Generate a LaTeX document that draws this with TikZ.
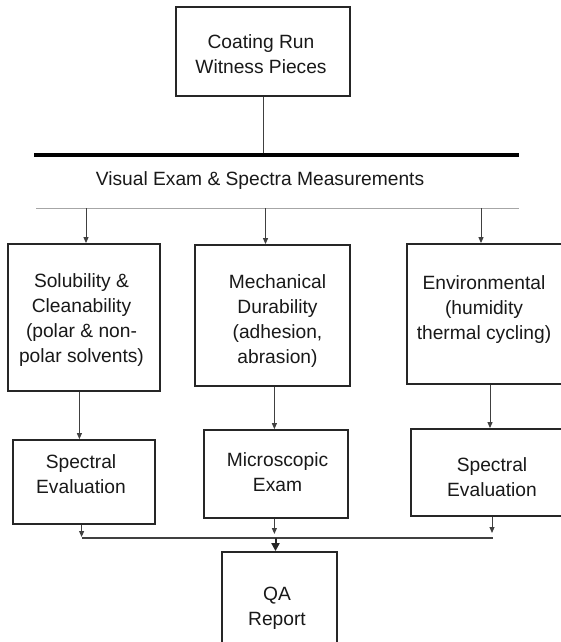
\documentclass[tikz,border=0pt]{standalone}
\usepackage{fontspec}
\setmainfont{Liberation Sans}
\usetikzlibrary{arrows.meta}
\begin{document}
\begin{tikzpicture}[x=1pt,y=-1pt,
  box/.style={draw=black!85, line width=1.8pt, rectangle, inner sep=0pt},
  txt/.style={align=center, font=\fontsize{19.2}{25}\selectfont, text=black!90, inner sep=0pt},
  conn/.style={draw=black!75, line width=1pt},
  arr/.style={conn, -{Triangle[width=5pt,length=6pt]}},
  bigarr/.style={draw=black!85, line width=2pt, -{Triangle[width=8pt,length=8pt]}}
]
\useasboundingbox (0,0) rectangle (561,642);
\clip (0,0) rectangle (561,642);
\fill[white] (0,0) rectangle (561,642);

% boxes
\node[box, minimum width=174pt, minimum height=89pt] (top) at (263,51.5) {};
\node[box, minimum width=152pt, minimum height=147pt] (b1) at (84,317.5) {};
\node[box, minimum width=155pt, minimum height=141pt] (b2) at (272.5,315.5) {};
\node[box, minimum width=168pt, minimum height=140pt] (b3) at (491,314) {};
\node[box, minimum width=142pt, minimum height=84pt] (c1) at (84,482) {};
\node[box, minimum width=144pt, minimum height=88pt] (c2) at (276,474) {};
\node[box, minimum width=170pt, minimum height=87pt] (c3) at (496,472.5) {};
\node[box, minimum width=115pt, minimum height=108pt] (qa) at (279.5,606) {};

% texts
\node[txt] (ttop) at (261,54.5) {Coating Run\\Witness Pieces};
\node[txt] (tb1) at (81.5,320.5) {Solubility \&\\Cleanability\\(polar \& non-\\polar solvents)};
\node[txt] (tb2) at (277.5,321.5) {Mechanical\\Durability\\(adhesion,\\abrasion)};
\node[txt] (tb3) at (484,309.5) {Environmental\\(humidity\\thermal cycling)};
\node[txt] (tc1) at (81,474.5) {Spectral\\Evaluation};
\node[txt] (tc2) at (277.5,472.5) {Microscopic\\Exam};
\node[txt] (tc3) at (492,477.5) {Spectral\\Evaluation};
\node[txt] (tqa) at (277,608.5) {QA\\Report};
\node[txt] (tvis) at (260,181) {Visual Exam \& Spectra Measurements};

% bars
\coordinate (barL) at (34,155);
\coordinate (barR) at (519,155);
\draw[line width=3.5pt, black] (barL) -- (barR);
\coordinate (thinL) at (36,208);
\coordinate (thinR) at (519,208);
\draw[line width=0.9pt, black!35] (thinL) -- (thinR);

% top box to bar
\draw[conn] (top.south) -- (top.south |- barL);
\fill[black] (top.south |- barL) circle (2pt);

% arrows from thin line to boxes
\coordinate (v1) at (86,208);
\coordinate (v2) at (265.5,208);
\coordinate (v3) at (481,208);
\draw[arr] (v1) -- (v1 |- b1.north);
\draw[arr] (v2) -- (v2 |- b2.north);
\draw[arr] (v3) -- (v3 |- b3.north);

% boxes to second row
\coordinate (d1) at (79.4,0);
\coordinate (d2) at (274.4,0);
\coordinate (d3) at (490,0);
\draw[arr] (d1 |- b1.south) -- (d1 |- c1.north);
\draw[arr] (d2 |- b2.south) -- (d2 |- c2.north);
\draw[arr] (d3 |- b3.south) -- (d3 |- c3.north);

% small arrows to collector line
\coordinate (h1) at (81.6,538);
\coordinate (h2) at (274.4,538);
\coordinate (h3) at (493,538);
\draw[arr] (h1 |- c1.south) -- ([yshift=1pt]h1);
\draw[arr] (h2 |- c2.south) -- ([yshift=4pt]h2);
\draw[arr] ([xshift=-1pt]h3 |- c3.south) -- ([xshift=-1pt,yshift=5pt]h3);
\draw[conn, line width=1.2pt] (h1) -- (h3);

% to QA
\coordinate (q) at (275.5,538);
\draw[bigarr] (q) -- (q |- qa.north);
\end{tikzpicture}
\end{document}
